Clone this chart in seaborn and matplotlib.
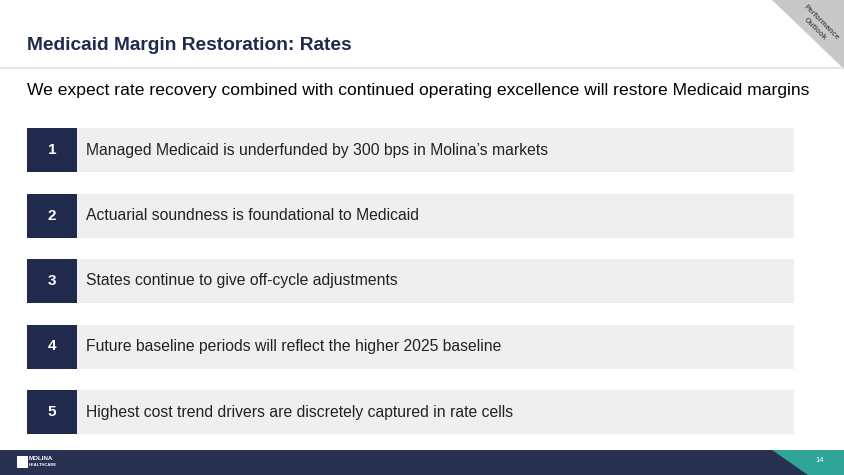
import matplotlib
matplotlib.use("Agg")
import matplotlib.pyplot as plt
import seaborn as sns
from matplotlib.patches import Polygon, Rectangle

sns.set_theme(style="white")
plt.rcParams['font.family'] = ['Liberation Sans', 'DejaVu Sans']

title = "Medicaid Margin Restoration: Rates"
subtitle = "We expect rate recovery combined with continued operating excellence will restore Medicaid margins"
numbers = ["1", "2", "3", "4", "5"]
items = [
    "Managed Medicaid is underfunded by 300 bps in Molina\u2019s markets",
    "Actuarial soundness is foundational to Medicaid",
    "States continue to give off-cycle adjustments",
    "Future baseline periods will reflect the higher 2025 baseline",
    "Highest cost trend drivers are discretely captured in rate cells",
]
page = "14"

NAVY = "#1f2a4d"
FOOT = "#283152"
GREY = "#efefef"

fig = plt.figure(figsize=(8.45, 4.75), dpi=100)
ax = fig.add_axes([0, 0, 1, 1])
ax.set_xlim(0, 845)
ax.set_ylim(475, 0)
ax.axis("off")

# top-right triangle
ax.add_patch(Polygon([[772, 0], [845, 0], [845, 70]], color="#c8c8c8", lw=0))
ax.text(818, 26, "Performance\nOutlook", rotation=-45, ha="center", va="center",
        fontsize=5.5, fontweight="bold", color="#555555", linespacing=1.5)

ax.text(27, 46, title, fontsize=13.8, fontweight="bold", color="#1f2a4d", va="center")
ax.plot([0, 845], [68, 68], color="#e2e2e2", lw=1.2)
ax.text(27, 91, subtitle, fontsize=12.6, color="black", va="center")

centers = [150 + 65.5 * i for i in range(len(items))]
h = 44
for c, n, t in zip(centers, numbers, items):
    ax.add_patch(Rectangle((77, c - h / 2), 717, h, color=GREY, lw=0))
    ax.add_patch(Rectangle((27, c - h / 2), 50, h, color=NAVY, lw=0))
    ax.text(52, c, n, ha="center", va="center", fontsize=11, fontweight="bold", color="white")
    ax.text(86, c, t, ha="left", va="center", fontsize=11.3, color="#222222")

# footer
ax.add_patch(Rectangle((0, 450), 845, 25, color=FOOT, lw=0))
ax.add_patch(Polygon([[772, 450], [845, 450], [845, 475], [808, 475]], color="#2fa59a", lw=0))
ax.text(820, 461, page, ha="center", va="center", fontsize=5.5, color="white")
ax.add_patch(Rectangle((17, 456), 11, 12, color="white", lw=0))
ax.text(29, 459, "MOLINA", fontsize=4.5, fontweight="bold", color="white", va="center")
ax.text(29, 465, "HEALTHCARE", fontsize=3, fontweight="bold", color="white", va="center")

fig.savefig("out.png", dpi=100)
